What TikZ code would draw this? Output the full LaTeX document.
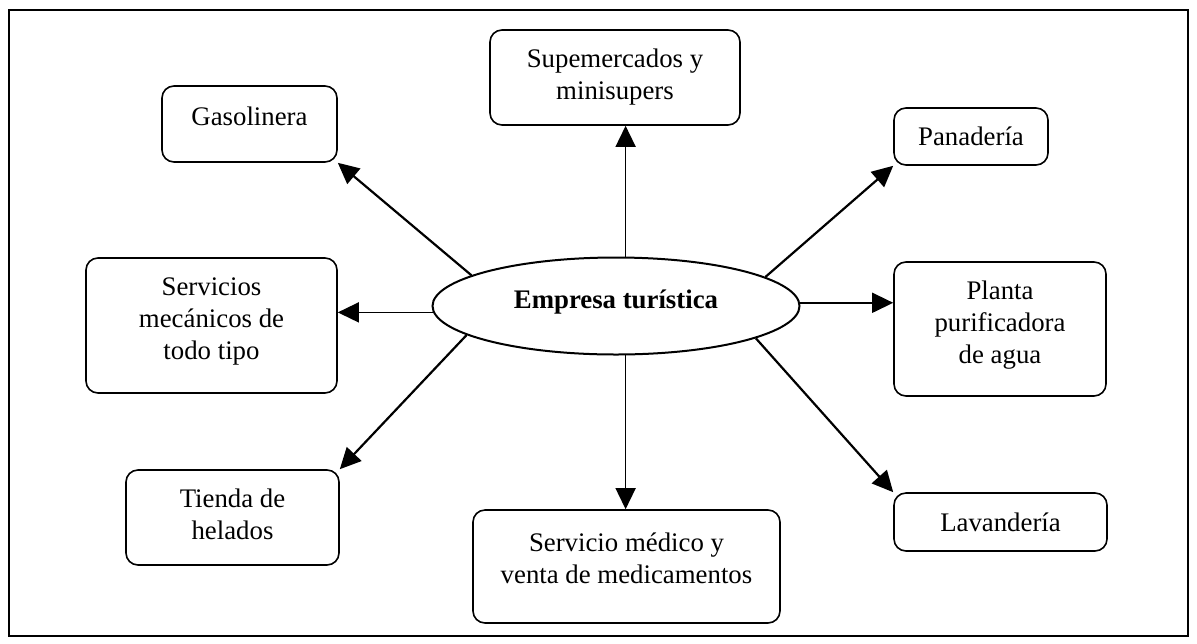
\documentclass[tikz,border=0pt]{standalone}
\usepackage{fontspec}
\setmainfont{Liberation Serif}
\usetikzlibrary{arrows.meta,shapes.geometric}
\begin{document}
\begin{tikzpicture}[x=0.5pt,y=-0.5pt,
  box/.style={draw,line width=0.8pt,rounded corners=6pt,inner sep=0pt},
  txt/.style={font=\fontsize{13.4}{16}\selectfont,align=center,inner sep=0pt},
  arr/.style={line width=1.1pt,-{Triangle[length=10.5pt,width=10pt]}},
  varr/.style={line width=0.75pt,-{Triangle[length=10.5pt,width=10pt]}}]
\useasboundingbox (0,0) rectangle (1197,643);
\draw[line width=1pt] (9,10) rectangle (1188,636);

\node[box,minimum width=125pt,minimum height=47.5pt,
  label={[txt]center:{Supemercados y\\minisupers}}] (SM) at (615,77.5) {};
\node[box,minimum width=87.5pt,minimum height=38pt,
  label={[txt,yshift=4pt]center:{Gasolinera}}] (GA) at (249.5,124) {};
\node[box,minimum width=77pt,minimum height=28.5pt,
  label={[txt]center:{Panadería}}] (PA) at (971,136.5) {};
\node[box,minimum width=125.5pt,minimum height=67.5pt,
  label={[txt,yshift=2pt]center:{Servicios\\mecánicos de\\todo tipo}}] (SV) at (211.5,325.5) {};
\node[box,minimum width=106pt,minimum height=67pt,
  label={[txt,yshift=2pt]center:{Planta\\purificadora\\de agua}}] (PL) at (1000,329) {};
\node[box,minimum width=106.5pt,minimum height=47.5pt,
  label={[txt,yshift=1.75pt]center:{Tienda de\\helados}}] (TI) at (232.5,517.5) {};
\node[box,minimum width=153.5pt,minimum height=56.5pt,
  label={[txt,yshift=4pt]center:{Servicio médico y\\venta de medicamentos}}] (MD) at (626.5,566.5) {};
\node[box,minimum width=106.5pt,minimum height=29pt,
  label={[txt]center:{Lavandería}}] (LA) at (1000.5,522) {};

\node[ellipse,draw,line width=1pt,minimum width=183.5pt,minimum height=48.5pt,inner sep=0pt,
  label={[txt,font=\fontsize{13.4}{16}\selectfont\bfseries,yshift=2pt]center:{Empresa turística}}] (E) at (616,306) {};

\draw[varr] (E.79.4) -- (E.79.4 |- SM.south);
\draw[varr] (E.281.8) -- (E.281.8 |- MD.north);
\draw[arr] (E.168.8) -- (GA.south east);
\draw[arr] (E.11.2) -- (PA.south west);
\draw[arr] (E.191.5) -- (TI.north east);
\draw[arr] (E.347.6) -- (LA.north west);
\draw[varr] (E.182.9) -- (E.182.9 -| SV.east);
\draw[varr] (E.1.9) -- (E.1.9 -| PL.west);
\end{tikzpicture}
\end{document}
